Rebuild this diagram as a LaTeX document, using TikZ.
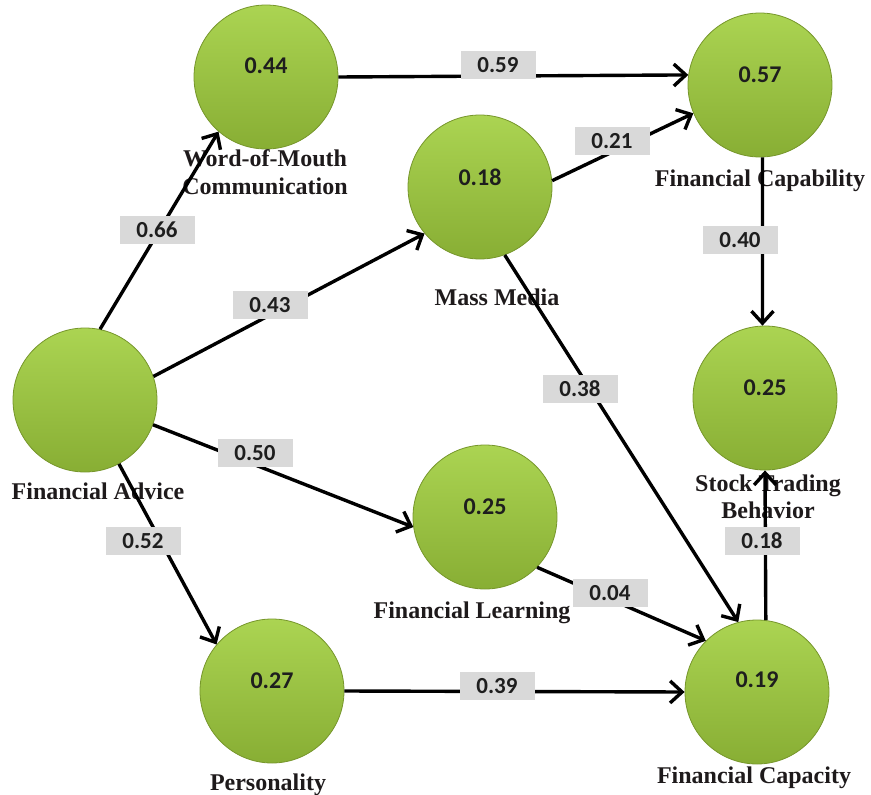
\documentclass[tikz,border=0pt]{standalone}
\usepackage{fontspec}
\setmainfont{Liberation Serif}
\newfontfamily\numfont{Carlito}
\usetikzlibrary{arrows.meta}
\definecolor{ballTop}{HTML}{ABD452}
\definecolor{ballBot}{HTML}{88AE34}
\definecolor{ballEdge}{HTML}{76962B}
\definecolor{numgray}{HTML}{1E1E1E}
\definecolor{namegray}{HTML}{1E1A1B}
\definecolor{lgray}{HTML}{D9D9D9}
\begin{document}
\begin{tikzpicture}[x=1pt,y=-1pt,
  ball/.style={circle, minimum size=144pt, inner sep=0pt, top color=ballTop, bottom color=ballBot, draw=ballEdge, line width=0.8pt},
  numtxt/.style={font=\numfont\bfseries\fontsize{24}{28}\selectfont, text=numgray, inner sep=0pt},
  nametxt/.style={font=\bfseries\fontsize{24}{27.5}\selectfont, text=namegray, align=center, inner sep=0pt},
  elab/.style={fill=lgray, minimum width=75pt, minimum height=28pt, inner sep=0pt, font=\numfont\bfseries\fontsize{23}{26}\selectfont, text=numgray},
  arr/.style={draw=black, line width=3.4pt, -{Straight Barb[length=12pt,width=22pt]}}]
\useasboundingbox (0,0) rectangle (871,795);
% circles
\node[ball] (wom) at (266,77) {};
\node[ball] (cap) at (760,85) {};
\node[ball] (mm) at (480,187) {};
\node[ball] (fa) at (85,400) {};
\node[ball] (stb) at (765,398) {};
\node[ball] (fl) at (485,517) {};
\node[ball] (pers) at (272,691) {};
\node[ball] (fc) at (757,692) {};
% numbers
\node[numtxt] (nwom) at ([yshift=11pt]wom.center) {0.44};
\node[numtxt] (ncap) at ([yshift=10pt]cap.center) {0.57};
\node[numtxt] (nmm) at ([yshift=10pt]mm.center) {0.18};
\node[numtxt] (nstb) at ([yshift=10pt]stb.center) {0.25};
\node[numtxt] (nfl) at ([yshift=10pt]fl.center) {0.25};
\node[numtxt] (npers) at ([yshift=10pt]pers.center) {0.27};
\node[numtxt] (nfc) at ([yshift=12pt]fc.center) {0.19};
% names
\node[nametxt] (twom) at (265,172) {Word-of-Mouth\\Communication};
\node[nametxt] (tcap) at (760,181) {Financial Capability};
\node[nametxt] (tmm) at (497,297) {Mass Media};
\node[nametxt] (tfa) at (98,491) {Financial Advice};
\node[nametxt] (tstb) at (768,497) {Stock Trading\\Behavior};
\node[nametxt] (tfl) at (472,613) {Financial Learning};
\node[nametxt] (tpers) at (268,785) {Personality};
\node[nametxt] (tfc) at (754,778) {Financial Capacity};
% arrows
\draw[arr] (wom.0) -- (cap.172);
\draw[arr] (mm.5) -- (cap.203);
\draw[arr] (cap.272) -- (stb.92);
\draw[arr] (fa.78) -- (wom.229);
\draw[arr] (fa.19) -- (mm.220);
\draw[arr] (fa.-20) -- (fl.188);
\draw[arr] (fa.-62) -- (pers.140);
\draw[arr] (mm.-70) -- (fc.105);
\draw[arr] (fl.-44) -- (fc.135);
\draw[arr] (pers.0) -- (fc.180);
\draw[arr] (fc.83) -- (stb.270);
% edge labels
\node[elab] (l59) at (498,65) {0.59};
\node[elab] (l21) at (612,141) {0.21};
\node[elab] (l40) at (740,240) {0.40};
\node[elab] (l66) at (157,230) {0.66};
\node[elab] (l43) at (270,305) {0.43};
\node[elab] (l38) at (580,389) {0.38};
\node[elab] (l50) at (255,453) {0.50};
\node[elab] (l52) at (143,541) {0.52};
\node[elab] (l04) at (610,593) {0.04};
\node[elab] (l39) at (497,686) {0.39};
\node[elab] (l18) at (762,541) {0.18};
\end{tikzpicture}
\end{document}
